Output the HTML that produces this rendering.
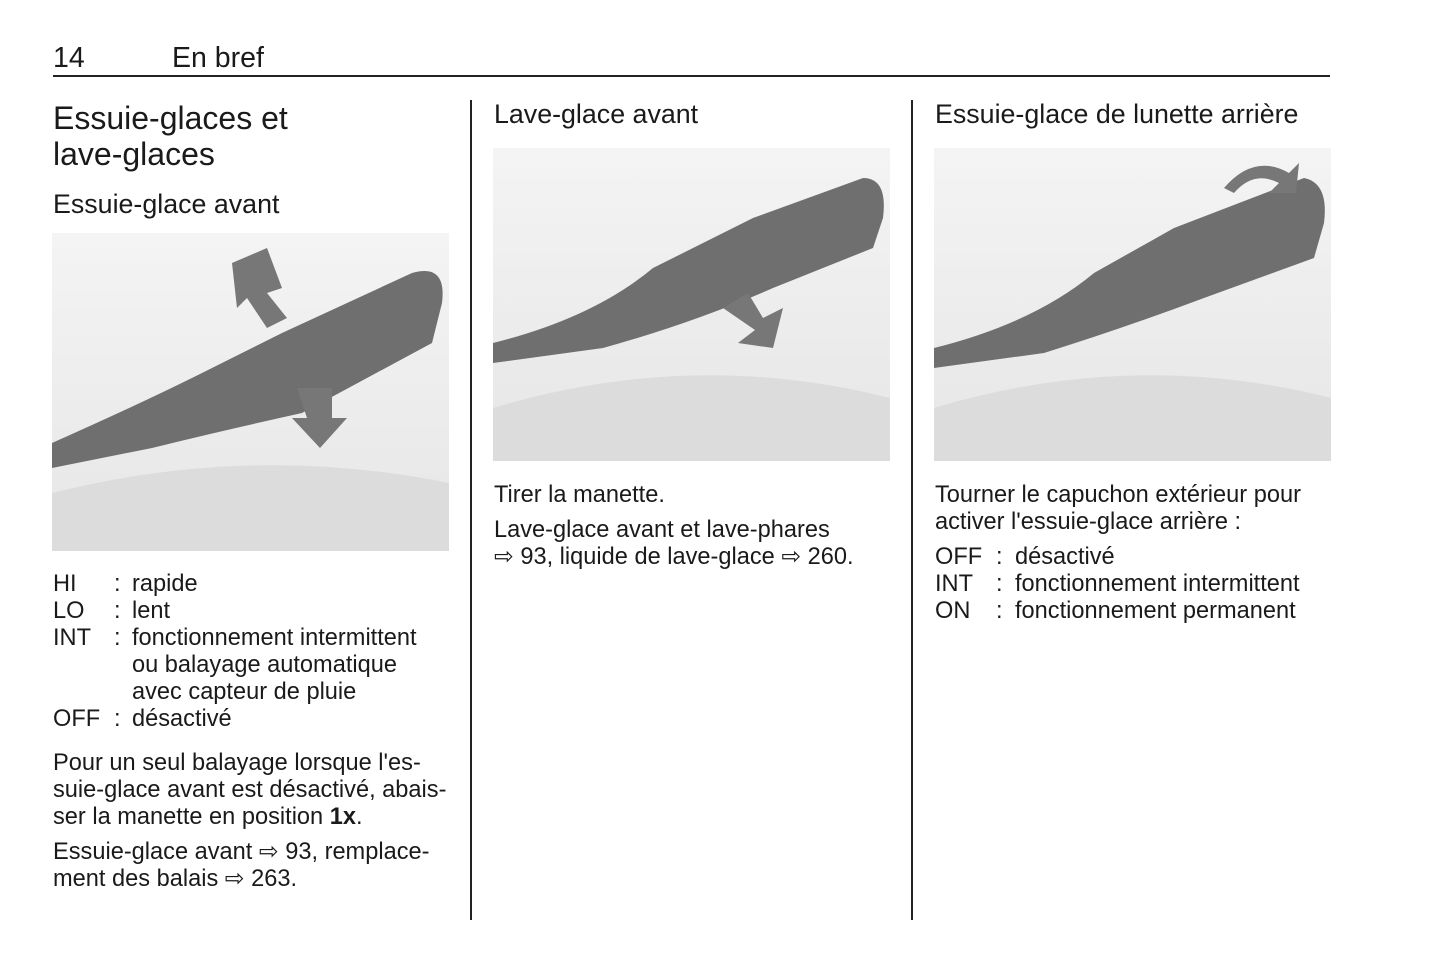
<!DOCTYPE html>
<html><head><meta charset="utf-8"><style>
body{margin:0;width:1445px;height:965px;background:#fff;position:relative;font-family:"Liberation Sans",Arial,sans-serif;color:#1a1a1a;overflow:hidden}
.a{position:absolute;white-space:nowrap}
.t{font-size:23.6px;line-height:27px}
.h1{font-size:32px;line-height:36px}
.h2{font-size:26.8px;line-height:30px}
.img{position:absolute;background:linear-gradient(180deg,#f4f4f4,#e6e6e6)}
table{border-collapse:collapse;font-size:23.6px;line-height:27px}
td{padding:0;vertical-align:top}
</style></head><body>
<div class="a" style="left:53px;top:42px;font-size:28.5px">14</div>
<div class="a" style="left:172px;top:42px;font-size:28.5px">En bref</div>
<div class="a" style="left:53px;top:75px;width:1277px;height:2px;background:#222"></div>
<div class="a" style="left:470px;top:100px;width:2px;height:820px;background:#222"></div>
<div class="a" style="left:911px;top:100px;width:2px;height:820px;background:#222"></div>

<div class="a h1" style="left:53px;top:100px">Essuie-glaces et<br>lave-glaces</div>
<div class="a h2" style="left:53px;top:189px">Essuie-glace avant</div>

<svg class="img" style="left:52px;top:233px" width="397" height="318" viewBox="0 0 397 318">
<path d="M0 260 Q200 210 397 250 L397 318 L0 318Z" fill="#dcdcdc"/>
<path d="M0 210 Q90 170 150 140 L230 100 L360 40 Q395 30 390 70 L380 110 L250 180 Q160 200 100 215 L0 235Z" fill="#6f6f6f"/>
<path d="M180 30 L215 15 L230 55 L215 60 L235 85 L215 95 L195 65 L185 75Z" fill="#777"/>
<path d="M245 155 L280 155 L280 185 L295 185 L268 215 L240 185 L255 185Z" fill="#777"/>
</svg>

<table class="a" style="left:53px;top:571px">
<tr><td style="width:61px">HI</td><td style="width:18px">:</td><td>rapide</td></tr>
<tr><td>LO</td><td>:</td><td>lent</td></tr>
<tr><td>INT</td><td>:</td><td>fonctionnement intermittent<br>ou balayage automatique<br>avec capteur de pluie</td></tr>
<tr><td>OFF</td><td>:</td><td>désactivé</td></tr>
</table>
<div class="a t" style="left:53px;top:750px">Pour un seul balayage lorsque l'es-<br>suie-glace avant est désactivé, abais-<br>ser la manette en position <b>1x</b>.</div>
<div class="a t" style="left:53px;top:839px">Essuie-glace avant ⇨ 93, remplace-<br>ment des balais ⇨ 263.</div>

<div class="a h2" style="left:494px;top:99px">Lave-glace avant</div>
<svg class="img" style="left:493px;top:148px" width="397" height="313" viewBox="0 0 397 313">
<path d="M0 260 Q200 200 397 250 L397 313 L0 313Z" fill="#dcdcdc"/>
<path d="M0 195 Q100 170 160 120 L260 70 L370 30 Q395 30 390 70 L380 100 L280 140 Q200 175 110 200 L0 215Z" fill="#6f6f6f"/>
<path d="M230 160 L255 145 L270 170 L290 160 L280 200 L245 195 L262 182Z" fill="#777"/>
</svg>
<div class="a t" style="left:494px;top:482px">Tirer la manette.</div>
<div class="a t" style="left:494px;top:517px">Lave-glace avant et lave-phares<br>⇨ 93, liquide de lave-glace ⇨ 260.</div>

<div class="a h2" style="left:935px;top:99px">Essuie-glace de lunette arrière</div>
<svg class="img" style="left:934px;top:148px" width="397" height="313" viewBox="0 0 397 313">
<path d="M0 260 Q200 200 397 250 L397 313 L0 313Z" fill="#dcdcdc"/>
<path d="M0 200 Q100 175 160 125 L240 80 L370 30 Q395 35 390 75 L380 110 L270 150 Q190 180 110 205 L0 220Z" fill="#6f6f6f"/>
<path d="M290 40 Q320 5 355 25 L365 15 L362 45 L335 45 L345 35 Q320 22 300 45Z" fill="#777"/>
</svg>
<div class="a t" style="left:935px;top:482px">Tourner le capuchon extérieur pour<br>activer l'essuie-glace arrière :</div>
<table class="a" style="left:935px;top:544px">
<tr><td style="width:61px">OFF</td><td style="width:19px">:</td><td>désactivé</td></tr>
<tr><td>INT</td><td>:</td><td>fonctionnement intermittent</td></tr>
<tr><td>ON</td><td>:</td><td>fonctionnement permanent</td></tr>
</table>
</body></html>
